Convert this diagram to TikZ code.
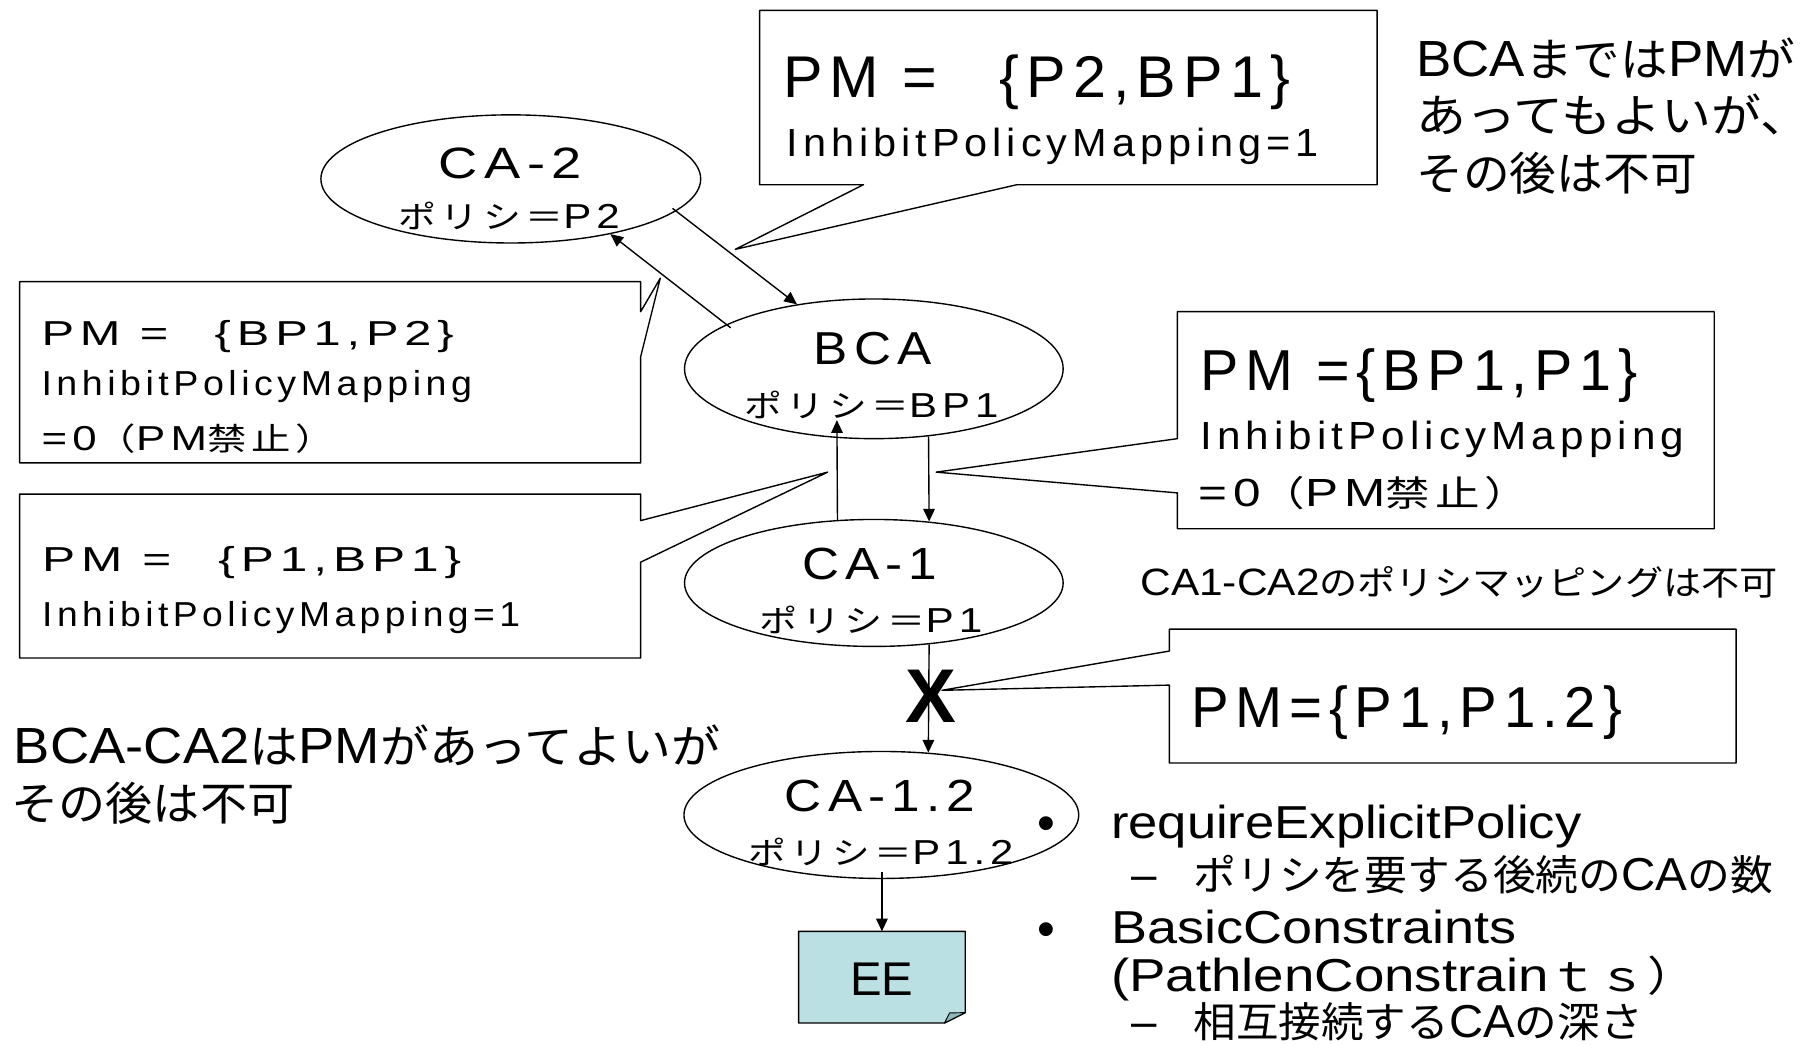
\documentclass[tikz,border=0pt]{standalone}
\usepackage{graphicx}
\usepackage{fontspec}
\setmainfont{Liberation Sans}
\newfontfamily\lsp[LetterSpace=12]{Liberation Sans}
\newfontfamily\jp[Scale=0.9]{Noto Sans CJK JP}
\newfontfamily\jps[Scale=0.9,LetterSpace=12]{Noto Sans CJK JP}
\usetikzlibrary{arrows.meta,calc,shapes.geometric}
\newcommand\fw[3]{\resizebox{#1pt}{\height}{\fontsize{#2pt}{#2pt}\selectfont #3}}
\newcommand\fws[3]{\resizebox{#1pt}{\height}{\fontsize{#2pt}{#2pt}\selectfont\lsp #3}}
\definecolor{eefill}{HTML}{BBE0E3}
\definecolor{eeflap}{HTML}{8FB8BC}
\tikzset{
  txt/.style={anchor=base west, inner sep=0pt, outer sep=0pt},
  ell/.style={draw, ellipse, line width=1.2pt, inner sep=0pt},
  box/.style={draw, line width=1.2pt, line join=round},
  arr/.style={-{Triangle[length=11pt,width=10pt]}, line width=1.2pt},
}
\begin{document}
\begin{tikzpicture}[x=1pt,y=-1pt]
\fill[white] (0,0) rectangle (1568,905);
\useasboundingbox (0,0) rectangle (1568,905);

% callout boxes
\draw[box] (658,9) -- (1193,9) -- (1193,160) -- (881,160) -- (637,216) -- (748,160) -- (658,160) -- cycle;
\draw[box] (17,244) -- (555,244) -- (555,270) -- (572,241) -- (555,309) -- (555,401) -- (17,401) -- cycle;
\draw[box] (17,428) -- (555,428) -- (555,451) -- (717,409) -- (555,487) -- (555,570) -- (17,570) -- cycle;
\draw[box] (1020,270) -- (1485,270) -- (1485,458) -- (1020,458) -- (1020,427) -- (811,409) -- (1020,380) -- cycle;
\draw[box] (1013,545) -- (1504,545) -- (1504,661) -- (1013,661) -- (1013,593.5) -- (816,598) -- (1013,564) -- cycle;

% ellipses
\node[ell, minimum width=329pt, minimum height=111pt] (ca2) at (442.5,155) {};
\node[ell, minimum width=328pt, minimum height=121pt] (bca) at (757,319.5) {};
\node[ell, minimum width=328pt, minimum height=110pt] (ca1) at (757,505) {};
\node[ell, minimum width=342pt, minimum height=110pt] (ca12) at (763.5,706) {};

% EE
\node[inner sep=0pt, minimum width=144pt, minimum height=79pt] (ee) at (764,846.5) {};
\draw[line width=1.2pt, fill=eefill, line join=round] (ee.north west) -- (ee.north east) -- ($(ee.south east)+(0,-9)$) -- ($(ee.south east)+(-18,0)$) -- (ee.south west) -- cycle;
\draw[line width=0.8pt, fill=eeflap, line join=round] ($(ee.south east)+(-18,0)$) -- ($(ee.south east)+(-13.6,-8.7)$) -- ($(ee.south east)+(0,-9)$) -- cycle;
\node[inner sep=0pt] (eet) at ($(ee.center)+(0,1.5)$) {\fontsize{41pt}{41pt}\selectfont EE};

% ellipse texts
\node[txt] (t2a) at (380,154.5) {\fws{124}{38}{CA-2}};
\node[txt] (t2b) at (345,198) {\fws{192}{30}{{\jps ポリシ＝}P2}};
\node[txt] (tba) at (705,316) {\fws{102}{40}{BCA}};
\node[txt] (tbb) at (645,362) {\fws{220}{30}{{\jps ポリシ＝}BP1}};
\node[txt] (t1a) at (695,502) {\fws{117}{39}{CA-1}};
\node[txt] (t1b) at (658,548) {\fws{193}{30}{{\jps ポリシ＝}P1}};
\node[txt] (t12a) at (680,703) {\fws{165}{39}{CA-1.2}};
\node[txt] (t12b) at (648,749) {\fws{230}{30}{{\jps ポリシ＝}P1.2}};

% arrows
\coordinate (s1) at (582.6,180.5);
\coordinate (s2) at (633,284);
\coordinate (t3) at (725,364);
\coordinate (s6) at (764,755);
\draw[arr] (s1) -- (bca.140.2);
\draw[arr] (s2) -- (ca2.-29.5);
\draw[arr] (ca1.120.6) -- (t3);
\draw[arr] (bca.-51.6) -- (ca1.48.9);
\draw[arr] (ca1.-48.9) -- (ca12.53.6);
\draw[arr] (s6) -- (ee.north);

% X mark
\node[inner sep=0pt] (xm) at (806,603.5) {\fontsize{66pt}{66pt}\selectfont\bfseries X};

% top box texts
\node[txt] (A) at (678.6,84.3) {\fws{439}{51}{PM =\hspace{1.05em}\{P2,BP1\}}};
\node[txt] (B) at (681.5,135.7) {\fws{461}{34}{InhibitPolicyMapping=1}};
% top right note
\node[txt] (C1) at (1227,66) {\fw{328}{44}{BCA{\jp までは}PM{\jp が}}};
\node[txt] (C2) at (1227,115) {\fw{341}{44}{{\jp あってもよいが、}}};
\node[txt] (C3) at (1227,165) {\fw{243}{44}{{\jp その後は不可}}};
% left box 1
\node[txt] (D1) at (36,299.5) {\fws{357}{30}{PM =\hspace{0.95em}\{BP1,P2\}}};
\node[txt] (D2) at (36,343) {\fws{373}{30}{InhibitPolicyMapping}};
\node[txt] (D3) at (36,390) {\fws{254}{30}{=0{\jps （}PM{\jps 禁止）}}};
% left box 2
\node[txt] (E1) at (36.6,495) {\fws{363}{30}{PM =\hspace{0.95em}\{P1,BP1\}}};
\node[txt] (E2) at (36.6,543) {\fws{414}{30}{InhibitPolicyMapping=1}};
% right box 1
\node[txt] (F1) at (1040,338) {\fws{379}{50}{PM =\{BP1,P1\}}};
\node[txt] (F2) at (1040,389) {\fws{419}{34}{InhibitPolicyMapping}};
\node[txt] (F3) at (1038,439) {\fws{287}{34}{=0{\jps （}PM{\jps 禁止）}}};
% note
\node[txt] (G) at (988,516) {\fw{552}{33}{CA1-CA2{\jp のポリシマッピングは不可}}};
% right box 2
\node[txt] (H) at (1032,630) {\fws{373}{50}{PM=\{P1,P1.2\}}};
% bottom left note
\node[txt] (I1) at (12,661) {\fw{612}{44}{BCA-CA2{\jp は}PM{\jp があってよいが}}};
\node[txt] (I2) at (10,711) {\fw{245}{44}{{\jp その後は不可}}};
% bullets
\node[anchor=base, inner sep=0pt] (b1) at (906.6,728) {\fontsize{44pt}{44pt}\selectfont •};
\node[anchor=base, inner sep=0pt] (b2) at (906.6,820) {\fontsize{44pt}{44pt}\selectfont •};
\node[txt] (J1) at (962.5,726) {\fw{407.5}{40}{requireExplicitPolicy}};
\node[txt] (d1) at (980,771) {\fw{22}{40}{–}};
\node[txt] (J2) at (1034,771) {\fw{502}{40}{{\jp ポリシを要する後続の}CA{\jp の数}}};
\node[txt] (J3) at (962.5,817) {\fw{351}{40}{BasicConstraints}};
\node[txt] (J4) at (962.5,859) {\fw{507}{40}{(PathlenConstrain{\jp ｔｓ）}}};
\node[txt] (d2) at (980,899) {\fw{22}{40}{–}};
\node[txt] (J5) at (1034,899) {\fw{389}{40}{{\jp 相互接続する}CA{\jp の深さ}}};
\end{tikzpicture}
\end{document}
